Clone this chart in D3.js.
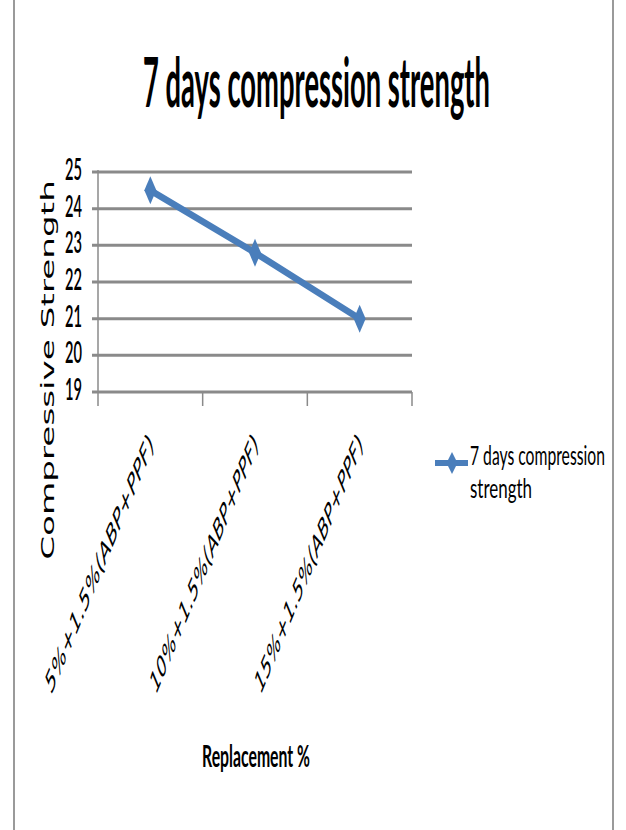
<!DOCTYPE html>
<html>
<head>
<meta charset="utf-8">
<script src="https://cdn.jsdelivr.net/npm/d3@7"></script>
<style>
  html, body { margin: 0; padding: 0; background: #fff; }
  svg { display: block; }
</style>
</head>
<body>
<script>
// Chart data
const categories = ["5%+1.5%(ABP+PPF)", "10%+1.5%(ABP+PPF)", "15%+1.5%(ABP+PPF)"];
const strength7d = [24.5, 22.8, 21.0];
const yTicks = [19, 20, 21, 22, 23, 24, 25];
const seriesName = ["7 days compression", "strength"];
const chartTitle = "7 days compression strength";
const xTitle = "Replacement %";
const yTitle = "Compressive Strength";

const W = 626, H = 830;
const plot = { left: 98, right: 412, top: 172, bottom: 392 };
const blue = "#4a7ebb";
const gridGray = "#8a8a8a";

const svg = d3.select("body").append("svg").attr("width", W).attr("height", H);

const x = d3.scaleBand().domain(categories).range([plot.left, plot.right]);
const y = d3.scaleLinear().domain([19, 25]).range([plot.bottom, plot.top]);

// Draws text stretched to a given width with a vertical scale factor
function stretched(parent, str, opts) {
  const t = parent.append("text")
    .attr("font-family", opts.font || "Lato")
    .attr("font-weight", opts.weight || "normal")
    .attr("font-size", opts.size)
    .attr("fill", opts.fill || "#000")
    .attr("text-anchor", opts.anchor || "start")
    .text(str);
  const len = t.node().getComputedTextLength();
  const sx = opts.width ? opts.width / len : 1;
  t.attr("transform", `translate(${opts.x},${opts.y}) scale(${sx},${opts.sy})`);
  return t;
}

// Outer frame
svg.append("line").attr("x1", 14).attr("x2", 14).attr("y1", 0).attr("y2", H)
  .attr("stroke", "#9a9a9a").attr("stroke-width", 2);
svg.append("line").attr("x1", 613).attr("x2", 613).attr("y1", 0).attr("y2", H)
  .attr("stroke", "#9a9a9a").attr("stroke-width", 2);

// Title
stretched(svg, chartTitle, { x: 316.5, y: 107, size: 24, weight: "bold", anchor: "middle", width: 347, sy: 2.9 });

// Horizontal gridlines with short ticks on the left
svg.append("g").selectAll("line").data(yTicks).join("line")
  .attr("x1", plot.left - 6).attr("x2", plot.right)
  .attr("y1", d => y(d)).attr("y2", d => y(d))
  .attr("stroke", gridGray).attr("stroke-width", 3);

// Y tick labels
const yl = svg.append("g");
yTicks.forEach(v => {
  stretched(yl, String(v), { x: 82, y: y(v) + 8, size: 14, weight: 600, anchor: "end", width: 17, sy: 2.2 });
});

// Left value axis
svg.append("line").attr("x1", plot.left).attr("x2", plot.left)
  .attr("y1", plot.top - 2).attr("y2", plot.bottom)
  .attr("stroke", gridGray).attr("stroke-width", 1.5);

// Category axis ticks below the plot
const xAxis = d3.axisBottom(x).tickSize(0).tickFormat("");
svg.append("g").attr("transform", `translate(0,${plot.bottom})`).call(xAxis)
  .call(g => g.select(".domain").remove());
const bounds = categories.map(c => x(c)).concat([x(categories[categories.length - 1]) + x.bandwidth()]);
svg.append("g").selectAll("line").data(bounds).join("line")
  .attr("x1", d => d).attr("x2", d => d)
  .attr("y1", plot.bottom).attr("y2", plot.bottom + 14)
  .attr("stroke", gridGray).attr("stroke-width", 1.5);

// Category labels, slanted
const xl = svg.append("g");
categories.forEach(c => {
  const t = xl.append("text")
    .attr("font-family", "DejaVu Sans")
    .attr("font-size", 13)
    .attr("text-anchor", "end")
    .attr("fill", "#000")
    .text(c);
  const len = t.node().getComputedTextLength();
  const s = 146 / len;
  const cx = x(c) + x.bandwidth() / 2 + 4;
  t.attr("transform", `translate(${cx},446) scale(1,2.42) rotate(-45) scale(${s},1)`);
});

// Axis titles
{
  const t = svg.append("text")
    .attr("font-family", "DejaVu Sans").attr("font-size", 17)
    .attr("text-anchor", "middle").attr("fill", "#000").text(yTitle);
  const len = t.node().getComputedTextLength();
  t.attr("transform", `translate(54,370) rotate(-90) scale(${380 / len},1)`);
}
stretched(svg, xTitle, { x: 256, y: 767, size: 13, weight: "bold", anchor: "middle", width: 108, sy: 2.35 });

// Data line and diamond markers
const line = d3.line()
  .x((d, i) => x(categories[i]) + x.bandwidth() / 2)
  .y(d => y(d));
svg.append("path").datum(strength7d)
  .attr("d", line).attr("fill", "none")
  .attr("stroke", blue).attr("stroke-width", 6.5).attr("stroke-linejoin", "round");

const diamond = (cx, cy, w, h) => `M${cx},${cy - h / 2}L${cx + w / 2},${cy}L${cx},${cy + h / 2}L${cx - w / 2},${cy}Z`;
svg.append("g").selectAll("path").data(strength7d).join("path")
  .attr("d", (d, i) => diamond(x(categories[i]) + x.bandwidth() / 2, y(d), 12, 28))
  .attr("fill", blue);

// Legend
const lg = svg.append("g");
lg.append("line").attr("x1", 435).attr("x2", 468).attr("y1", 463).attr("y2", 463)
  .attr("stroke", blue).attr("stroke-width", 6);
lg.append("path").attr("d", diamond(452, 463, 11, 22)).attr("fill", blue);
stretched(lg, seriesName[0], { x: 470, y: 465, size: 12, width: 135, sy: 2.3 });
stretched(lg, seriesName[1], { x: 470, y: 498, size: 12, width: 62, sy: 2.3 });
</script>
</body>
</html>
